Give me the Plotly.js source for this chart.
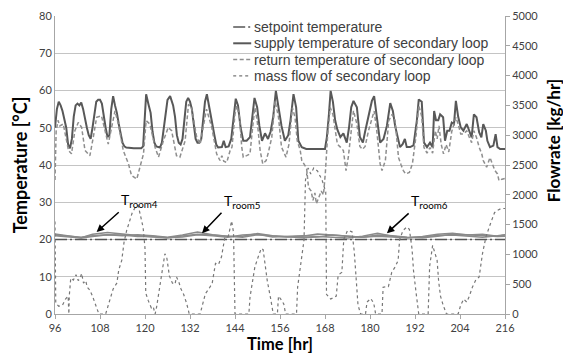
<!DOCTYPE html>
<html>
<head>
<meta charset="utf-8">
<script src="https://cdn.plot.ly/plotly-3.0.1.min.js"></script>
<style>html,body{margin:0;padding:0;background:#fff}#chart{width:563px;height:354px}</style>
</head>
<body>
<div id="chart"></div>
<script>
const xTicks = [96,108,120,132,144,156,168,180,192,204,216];

const setpointTime = [96,216];
const setpointTemp = [20,20];

const supplyTime = [96.0,96.5,97.0,97.5,98.0,98.5,99.0,99.5,100.0,100.5,101.0,101.5,102.0,102.5,103.0,103.5,104.0,104.5,105.0,105.5,106.0,106.5,107.0,107.5,108.0,108.5,109.0,109.5,110.0,110.5,111.0,111.5,112.0,112.5,113.0,113.5,114.0,114.5,115.0,117.0,119.0,119.5,120.0,120.3,121.0,121.5,122.0,122.5,123.0,124.0,124.5,125.0,125.5,126.0,126.7,127.5,128.0,128.5,129.0,129.5,130.0,130.5,131.0,131.5,132.0,132.5,133.0,133.5,134.0,134.5,135.0,135.5,136.0,136.5,137.0,137.5,138.0,138.5,139.0,139.5,140.5,141.0,141.5,142.3,143.0,143.6,144.2,144.8,145.5,146.2,147.1,148.0,148.6,149.2,149.9,150.5,151.2,152.0,152.8,153.5,154.2,154.9,155.6,156.4,157.3,158.2,158.8,159.6,160.3,160.9,161.8,163.0,168.0,168.5,169.0,169.5,170.1,170.7,171.3,172.1,172.9,173.8,174.4,175.0,175.6,176.5,177.3,178.1,178.7,179.6,180.5,181.1,181.8,182.7,183.6,184.5,185.4,186.1,186.7,187.6,188.0,188.7,189.3,189.8,190.7,191.6,192.5,193.0,193.8,194.4,195.2,196.0,196.7,197.1,197.6,198.2,198.7,199.5,200.0,200.6,201.2,201.8,202.4,202.9,203.5,204.2,204.9,205.8,206.5,207.1,207.7,208.4,209.1,209.7,210.2,210.9,211.3,212.0,212.9,213.5,214.0,214.7,216.0];
const supplyTemp = [50,55,57,56,54.5,52,50,45.5,44.5,47,53,56,56.5,56,56.8,55,52,50,48,47,50,54,57,57.5,57.5,56.5,53,50,47.5,48,55,58.5,56,54,51,48,46,45,44.7,44.5,44.5,45,52,59,56,54,49,46,45,44.7,46,50,55,57.5,58.5,56,53,48,46,45.5,47,53,57,58,57,55,51,47,46,46,47,52,57,59,56,53.5,51,48,45.5,44.7,44.8,46.5,44.8,45,47,52,57.8,56,50,46.5,46.5,47.5,53.5,58,55.5,50.5,46.5,48.5,47,49,53,59.9,55.5,50.5,46.5,48,52,59,55.5,46.5,44.8,44.3,44.3,47.5,53,59.9,57,52,49.5,47.5,48.5,46,50,55.5,57.2,55.5,47.5,46,49,53.5,57.2,58.5,53,46,47,50.5,56.6,54.5,50.5,47,44.8,45.6,47,44.8,44.8,45.3,52,57.6,57,46,44.8,46,44.8,54.5,52,52,53.6,52.8,46.5,49.2,49.2,51.4,51,57.2,53,50.1,49.2,51,49.2,47.4,53.6,52.8,48.8,47.4,51,49.2,46.5,44.8,45.2,48.3,44.8,44.3,44.3];

const returnTime = [96.0,96.3,96.8,97.3,98.2,98.8,99.6,100.4,101.3,102.2,103.1,104.0,105.3,106.2,107.1,108.4,109.3,110.2,111.1,112.0,112.9,114.2,115.6,116.4,117.8,118.7,119.6,120.3,121.3,122.7,123.6,124.9,126.2,127.1,128.4,129.3,130.7,131.6,132.4,133.8,134.7,136.4,137.8,139.1,140.0,140.5,141.0,141.8,142.7,143.2,144.0,144.5,145.2,145.8,146.2,147.1,148.0,148.7,149.3,149.9,150.7,151.4,152.3,152.9,153.8,154.7,155.6,156.4,157.6,158.4,159.3,160.0,160.6,161.4,161.8,162.7,163.1,163.6,164.3,164.8,165.3,165.7,166.4,167.0,167.6,168.1,168.7,169.4,170.1,170.7,171.3,172.1,172.9,173.6,174.2,174.9,175.6,176.5,177.3,178.0,178.7,179.6,180.5,181.1,181.8,182.7,183.2,184.1,185.0,185.9,186.7,187.6,188.3,188.9,189.5,190.5,191.3,192.3,193.0,193.8,194.4,195.2,196.0,196.7,197.4,197.9,198.4,199.0,199.6,200.3,201.0,201.8,202.4,202.9,203.5,204.2,204.9,205.8,206.5,207.1,207.7,208.4,209.1,209.8,210.2,211.1,212.0,212.6,213.3,214.0,214.4,215.2,216.0];
const returnTemp = [36,49,52,50.5,51,48,43.9,43,49.2,51.4,50.1,43.9,42.5,47.4,52.8,53.2,49.2,45.6,50.1,54.5,51,43.9,40.3,37.2,36.2,39.4,43,51.9,51,44.7,42.1,46.5,50.1,49.2,42.5,42.1,46.5,56.3,55.4,47.4,45.6,55,50.1,43,41.2,42.5,41,40.7,43.9,44.8,53.7,55.9,52.8,44.8,42.1,42.5,43,50.1,55.4,52,43.9,40.3,41.2,43.4,47.4,57.2,52.8,44.8,42.1,45.6,55.4,52.8,46.5,43.9,41.2,39.8,39,34,33,30.5,32.5,29.6,31.7,33,32,38,48,55.4,53.6,49.2,45.6,44.8,43.9,38.5,42,48.3,54.6,51,45,44.2,45,49.2,52.8,54.5,49.2,40.3,38.5,41.2,51.9,53.6,51.9,42,40,38.5,37.6,38,40.3,48,56,53,44.7,43.2,44.7,43.2,49.2,47,50.5,45.5,43,45.5,43.5,49,51,52.8,51,48.3,48.3,49.2,47.4,46,49.2,47.4,44.8,43,41.2,39.4,42,40.3,38.5,37.6,35.8,36.2,36.4];

const flowTime = [96.0,96.2,97.0,98.0,98.8,99.5,99.7,99.8,100.2,100.9,101.6,102.2,102.7,103.1,103.6,104.2,104.6,105.3,106.0,106.6,107.2,107.7,109.5,110.0,110.7,111.5,112.5,113.0,113.8,114.4,115.1,116.0,116.6,117.5,118.2,118.8,119.5,120.0,120.2,120.9,121.7,122.2,122.7,123.1,124.0,124.8,125.3,125.8,126.5,127.3,128.0,128.4,129.0,129.6,130.3,131.1,131.8,134.7,135.3,136.1,137.0,137.9,138.8,139.6,140.4,141.3,142.2,143.1,143.6,144.0,147.7,148.0,148.4,149.3,150.2,151.0,151.5,152.0,152.6,153.5,154.2,155.3,155.6,156.2,157.0,157.5,160.4,160.7,161.5,162.0,162.4,162.8,163.5,164.2,165.0,166.0,167.2,168.2,168.4,169.5,171.0,171.5,172.5,173.0,174.0,175.2,175.8,176.3,176.8,177.5,178.8,179.2,180.2,181.0,181.5,183.2,183.5,184.9,185.8,186.7,187.5,187.9,188.8,189.8,190.5,191.2,191.6,192.3,193.0,195.5,195.9,196.7,197.4,197.9,198.3,198.8,199.5,200.4,203.5,204.2,205.0,205.8,206.5,207.3,208.2,209.1,210.0,210.9,211.8,212.5,213.2,214.0,215.0,216.0];
const flowRate = [1550,180,130,150,250,300,0,300,600,570,660,560,600,680,520,560,450,400,300,180,100,0,0,100,220,420,520,740,900,1200,1400,1580,1700,1800,1820,1650,1450,1100,350,220,100,120,0,120,460,820,1010,950,640,520,500,620,540,420,330,180,0,0,150,340,420,510,850,830,960,1290,1300,1560,1370,0,0,280,440,790,960,1100,1080,800,560,260,0,0,300,250,170,0,0,450,790,1050,1240,2250,2450,2350,2450,2400,2250,2050,330,250,300,650,700,1250,1400,1380,1050,600,150,0,0,200,260,180,0,0,450,460,700,790,900,1250,1400,1460,1420,1100,730,350,0,0,800,1150,1000,900,550,300,150,0,0,150,250,200,300,450,570,620,1015,1290,1460,1600,1700,1740,1770,1770];

const roomTime = [96,100,103,106,110,114,118,122,126,130,134,138,142,146,150,154,158,162,166,170,174,178,182,186,190,194,198,202,206,210,214,216];
const room4 = [21.5,21.0,20.5,21.4,21.9,21.5,21.0,20.7,20.5,20.9,21.4,21.2,20.8,20.6,21.3,21.1,20.7,20.9,21.5,21.2,20.8,20.6,21.2,21.0,20.6,20.5,20.9,21.4,21.3,21.0,20.8,20.9];
const room5 = [21.0,20.7,20.4,20.8,21.3,21.0,21.3,21.0,20.6,21.2,22.0,21.3,20.8,20.9,21.6,21.0,20.8,20.5,20.7,21.2,20.9,20.6,20.9,20.7,20.5,20.8,21.4,21.7,21.2,21.4,20.9,21.2];
const room6 = [21.2,20.8,20.6,21.0,21.3,21.2,20.8,20.9,20.5,20.7,21.3,21.0,20.6,21.2,21.4,20.7,20.9,21.0,20.8,20.6,20.4,20.9,21.7,20.9,20.5,20.7,21.1,21.2,20.9,20.6,21.0,21.3];

const legendNames = ['setpoint temperature','supply temperature of secondary loop','return temperature of secondary loop','mass flow of secondary loop'];
const roomLabels = ['room4','room5','room6'];
const arrowHead = [[107.1,22.0],[135.2,21.7],[184.5,21.7]];
const arrowTail = [[113.0,27.3],[140.4,27.2],[190.3,27.0]];

const FONT = 'Lato, "Open Sans", sans-serif';
const LEGEND_FONT = '"Liberation Sans", Arial, sans-serif';
const styles = {
  setpoint: {color:'#555555', width:1.5, dash:'12px,3px,2px,3px'},
  supply: {color:'#585858', width:2, dash:'solid'},
  ret: {color:'#8e8e8e', width:1.5, dash:'4px,2.5px'},
  flow: {color:'#777777', width:1.2, dash:'dot'},
  room: {color:'#8a8a8a', width:1.5, dash:'solid'}
};

const traces = [
  {x:roomTime, y:room4, type:'scatter', mode:'lines', line:styles.room, showlegend:false, name:'T room4'},
  {x:roomTime, y:room5, type:'scatter', mode:'lines', line:styles.room, showlegend:false, name:'T room5'},
  {x:roomTime, y:room6, type:'scatter', mode:'lines', line:styles.room, showlegend:false, name:'T room6'},
  {x:setpointTime, y:setpointTemp, type:'scatter', mode:'lines', line:styles.setpoint, name:legendNames[0], showlegend:false},
  {x:supplyTime, y:supplyTemp, type:'scatter', mode:'lines', line:styles.supply, name:legendNames[1], showlegend:false},
  {x:returnTime, y:returnTemp, type:'scatter', mode:'lines', line:styles.ret, name:legendNames[2], showlegend:false},
  {x:flowTime, y:flowRate, type:'scatter', mode:'lines', line:styles.flow, name:legendNames[3], yaxis:'y2', showlegend:false}
];

const legendStyles = [styles.setpoint, styles.supply, styles.ret, styles.flow];
const legendRowPx = [27, 43.3, 59.6, 75.9];
const shapes = [];
const annotations = [];
legendNames.forEach((n,i)=>{
  const yy = (314 - legendRowPx[i]) / 298;
  shapes.push({type:'line', xref:'paper', yref:'paper', x0:0.396, x1:0.436, y0:yy, y1:yy,
    line:{color:legendStyles[i].color, width:legendStyles[i].width, dash:legendStyles[i].dash}});
  annotations.push({xref:'paper', yref:'paper', x:0.44, y:yy, xanchor:'left', yanchor:'middle',
    text:n, showarrow:false, borderpad:0, font:{family:LEGEND_FONT, size:14, color:'#404040'}});
});
roomLabels.forEach((r,i)=>{
  annotations.push({xref:'x', yref:'y', axref:'x', ayref:'y', x:arrowHead[i][0], y:arrowHead[i][1],
    ax:arrowTail[i][0], ay:arrowTail[i][1], xanchor:'left', yanchor:'bottom',
    text:'T<sub>'+r+'</sub>', showarrow:true, arrowhead:2, arrowsize:1, arrowwidth:1.5, arrowcolor:'#000',
    font:{family:FONT, size:14, color:'#000'}});
});
annotations.push({xref:'paper', yref:'paper', x:(553-55)/450, y:0.58, xanchor:'center', yanchor:'middle', textangle:-90,
  text:'<b>Flowrate [kg/hr]</b>', showarrow:false, font:{family:FONT, size:17, color:'#000'}});
annotations.push({xref:'paper', yref:'paper', x:0.5, y:-(343.8-314)/298, xanchor:'center', yanchor:'middle',
  text:'<b>Time [hr]</b>', showarrow:false, borderpad:0, font:{family:FONT, size:16.5, color:'#000'}});

const layout = {
  width:563, height:354,
  margin:{l:55, r:58, t:16, b:40},
  paper_bgcolor:'#fff', plot_bgcolor:'#fff',
  font:{family:FONT, size:11, color:'#404040'},
  showlegend:false,
  xaxis:{range:[96,216], tickvals:xTicks, ticktext:xTicks.map(String), ticks:'outside', ticklen:4, tickcolor:'#a6a6a6',
    showline:true, linecolor:'#a6a6a6', linewidth:1, showgrid:false, zeroline:false,
    tickfont:{family:FONT, size:11, color:'#404040'}},
  yaxis:{range:[0,80], dtick:10, tick0:0, ticks:'', showline:true, linecolor:'#a6a6a6', linewidth:1,
    showgrid:true, gridcolor:'#c4c4c4', gridwidth:1, zeroline:false,
    tickfont:{family:FONT, size:11, color:'#404040'},
    title:{text:'<b>Temperature [°C]</b>', font:{family:FONT, size:18, color:'#000'}, standoff:6}},
  yaxis2:{range:[0,5000], dtick:500, tick0:0, overlaying:'y', side:'right', ticks:'outside', ticklen:4, tickcolor:'#a6a6a6',
    showline:true, linecolor:'#a6a6a6', linewidth:1, showgrid:false, zeroline:false,
    tickfont:{family:FONT, size:11, color:'#404040'}},
  shapes:shapes,
  annotations:annotations
};

Plotly.newPlot('chart', traces, layout, {displayModeBar:false, staticPlot:true});
</script>
</body>
</html>
